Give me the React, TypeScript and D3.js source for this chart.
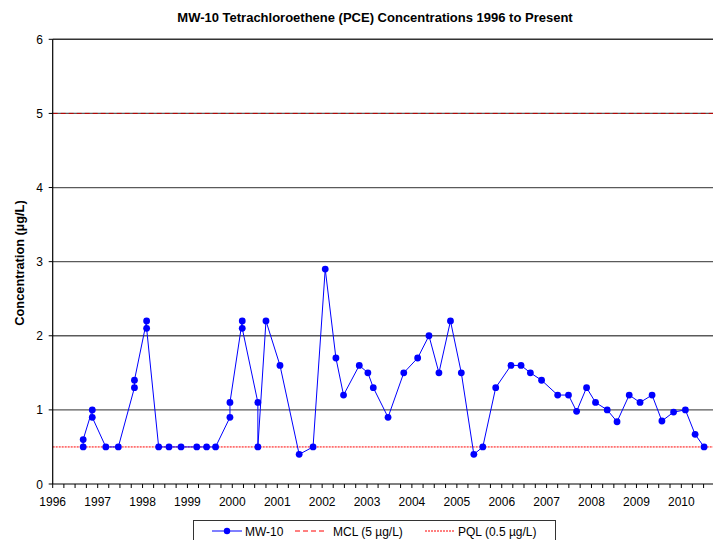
import React from "react";
import * as d3 from "d3";

const title = "MW-10 Tetrachloroethene (PCE) Concentrations 1996 to Present";
const yAxisTitle = "Concentration (µg/L)";

const sampleDates = [
  "1996-09-05", "1996-09-05", "1996-11-18", "1996-11-18", "1997-03-08", "1997-06-18",
  "1997-10-27", "1997-10-27", "1998-02-03", "1998-02-03", "1998-05-12", "1998-08-04",
  "1998-11-10", "1999-03-18", "1999-06-06", "1999-08-18", "1999-12-13", "1999-12-13",
  "2000-03-22", "2000-03-22", "2000-07-27", "2000-07-27", "2000-10-01", "2001-01-23",
  "2001-06-28", "2001-10-19", "2002-01-26", "2002-04-23", "2002-06-24", "2002-10-30",
  "2003-01-08", "2003-02-21", "2003-06-21", "2003-10-27", "2004-02-17", "2004-05-19",
  "2004-08-08", "2004-11-10", "2005-02-06", "2005-05-19", "2005-07-31", "2005-11-13",
  "2006-03-17", "2006-06-07", "2006-08-22", "2006-11-21", "2007-04-01", "2007-06-28",
  "2007-09-02", "2007-11-22", "2008-02-03", "2008-05-08", "2008-07-27", "2008-11-03",
  "2009-01-30", "2009-05-08", "2009-07-27", "2009-10-30", "2010-02-03", "2010-04-23",
  "2010-07-05",
];

const mw10Values = [
  0.5, 0.6, 1.0, 0.9, 0.5, 0.5,
  1.3, 1.4, 2.2, 2.1, 0.5, 0.5,
  0.5, 0.5, 0.5, 0.5, 0.9, 1.1,
  2.2, 2.1, 1.1, 0.5, 2.2, 1.6,
  0.4, 0.5, 2.9, 1.7, 1.2, 1.6,
  1.5, 1.3, 0.9, 1.5, 1.7, 2.0,
  1.5, 2.2, 1.5, 0.4, 0.5, 1.3,
  1.6, 1.6, 1.5, 1.4, 1.2, 1.2,
  0.98, 1.3, 1.1, 1.0, 0.84, 1.2,
  1.1, 1.2, 0.85, 0.97, 1.0, 0.67,
  0.5,
];

const mclValue = 5;
const pqlValue = 0.5;
const yTicks = [0, 1, 2, 3, 4, 5, 6];
const yearTicks = [1996, 1997, 1998, 1999, 2000, 2001, 2002, 2003, 2004, 2005, 2006, 2007, 2008, 2009, 2010];
const legendLabels = ["MW-10", "MCL (5 µg/L)", "PQL (0.5 µg/L)"];

const W = 713;
const H = 540;
const plotLeft = 52.7;
const plotRight = 726.2;
const plotTop = 39.3;
const plotBottom = 484;
const FONT = "'Liberation Sans', Arial, sans-serif";

export default function App() {
  const parse = d3.timeParse("%Y-%m-%d");
  const x = d3
    .scaleTime()
    .domain([new Date(1996, 0, 1), new Date(2011, 0, 1)])
    .range([plotLeft, plotRight]);
  const y = d3.scaleLinear().domain([0, 6]).range([plotBottom, plotTop]);

  const data = sampleDates.map((d, i) => ({ date: parse(d) as Date, v: mw10Values[i] }));
  const line = d3
    .line<{ date: Date; v: number }>()
    .x((d) => x(d.date))
    .y((d) => y(d.v));

  const minorTicks = d3.timeMonth.range(new Date(1996, 0, 1), new Date(2011, 0, 2), 3);

  return (
    <div style={{ position: "absolute", left: 0, top: 0 }}>
      <svg width={W} height={H} style={{ display: "block", fontFamily: FONT }}>
        <rect x={0} y={0} width={W} height={H} fill="#fff" />
        <text x={375} y={22} textAnchor="middle" fontSize={13} fontWeight="bold" fill="#000">
          {title}
        </text>
        {/* gridlines */}
        {yTicks.filter((t) => t > 0).map((t) => (
          <line key={"g" + t} x1={plotLeft} x2={plotRight} y1={y(t)} y2={y(t)}
            stroke={t === 6 ? "#333" : "#5a5a5a"} strokeWidth={t === 6 ? 1.6 : 1.3} />
        ))}
        {/* MCL */}
        <line x1={plotLeft} x2={plotRight} y1={y(mclValue)} y2={y(mclValue)}
          stroke="#c00000" strokeWidth={1} strokeDasharray="5,3" />
        {/* PQL */}
        <line x1={plotLeft} x2={plotRight} y1={y(pqlValue)} y2={y(pqlValue)}
          stroke="#ff0000" strokeWidth={1} strokeDasharray="2,1" />
        {/* axes */}
        <line x1={plotLeft} x2={plotLeft} y1={plotTop} y2={plotBottom} stroke="#000" strokeWidth={1.2} />
        <line x1={plotLeft} x2={plotRight} y1={plotBottom} y2={plotBottom} stroke="#000" strokeWidth={1.2} />
        {yTicks.map((t) => (
          <g key={"yt" + t}>
            <line x1={plotLeft - 4} x2={plotLeft} y1={y(t)} y2={y(t)} stroke="#000" />
            <text x={43} y={y(t) + 4.5} textAnchor="end" fontSize={12} fill="#000">{t}</text>
          </g>
        ))}
        {minorTicks.map((d, i) => (
          <line key={"xt" + i} x1={x(d)} x2={x(d)} y1={plotBottom} y2={plotBottom + 4} stroke="#000" />
        ))}
        {yearTicks.map((yr) => (
          <text key={"xl" + yr} x={x(new Date(yr, 0, 1))} y={506} textAnchor="middle" fontSize={12} fill="#000">
            {yr}
          </text>
        ))}
        <text transform={`translate(24,263) rotate(-90)`} textAnchor="middle" fontSize={12.8} fontWeight="bold" fill="#000">
          {yAxisTitle}
        </text>
        {/* series */}
        <path d={line(data) || ""} fill="none" stroke="#0000ff" strokeWidth={1} />
        {data.map((d, i) => (
          <circle key={"p" + i} cx={x(d.date)} cy={y(d.v)} r={3.4} fill="#0000ff" />
        ))}
        {/* legend */}
        <rect x={193.5} y={520.5} width={362} height={30} fill="#fff" stroke="#333" strokeWidth={1} />
        <line x1={212} x2={242} y1={531} y2={531} stroke="#0000ff" strokeWidth={1} />
        <circle cx={227} cy={531} r={3.2} fill="#0000ff" />
        <text x={245} y={535.5} fontSize={12} fill="#000">{legendLabels[0]}</text>
        <line x1={295} x2={327} y1={531} y2={531} stroke="#ff0000" strokeWidth={1} strokeDasharray="5,3" />
        <text x={333} y={535.5} fontSize={12} fill="#000">{legendLabels[1]}</text>
        <line x1={425} x2={455} y1={531} y2={531} stroke="#ff0000" strokeWidth={1} strokeDasharray="2,1" />
        <text x={458} y={535.5} fontSize={12} fill="#000">{legendLabels[2]}</text>
      </svg>
    </div>
  );
}
